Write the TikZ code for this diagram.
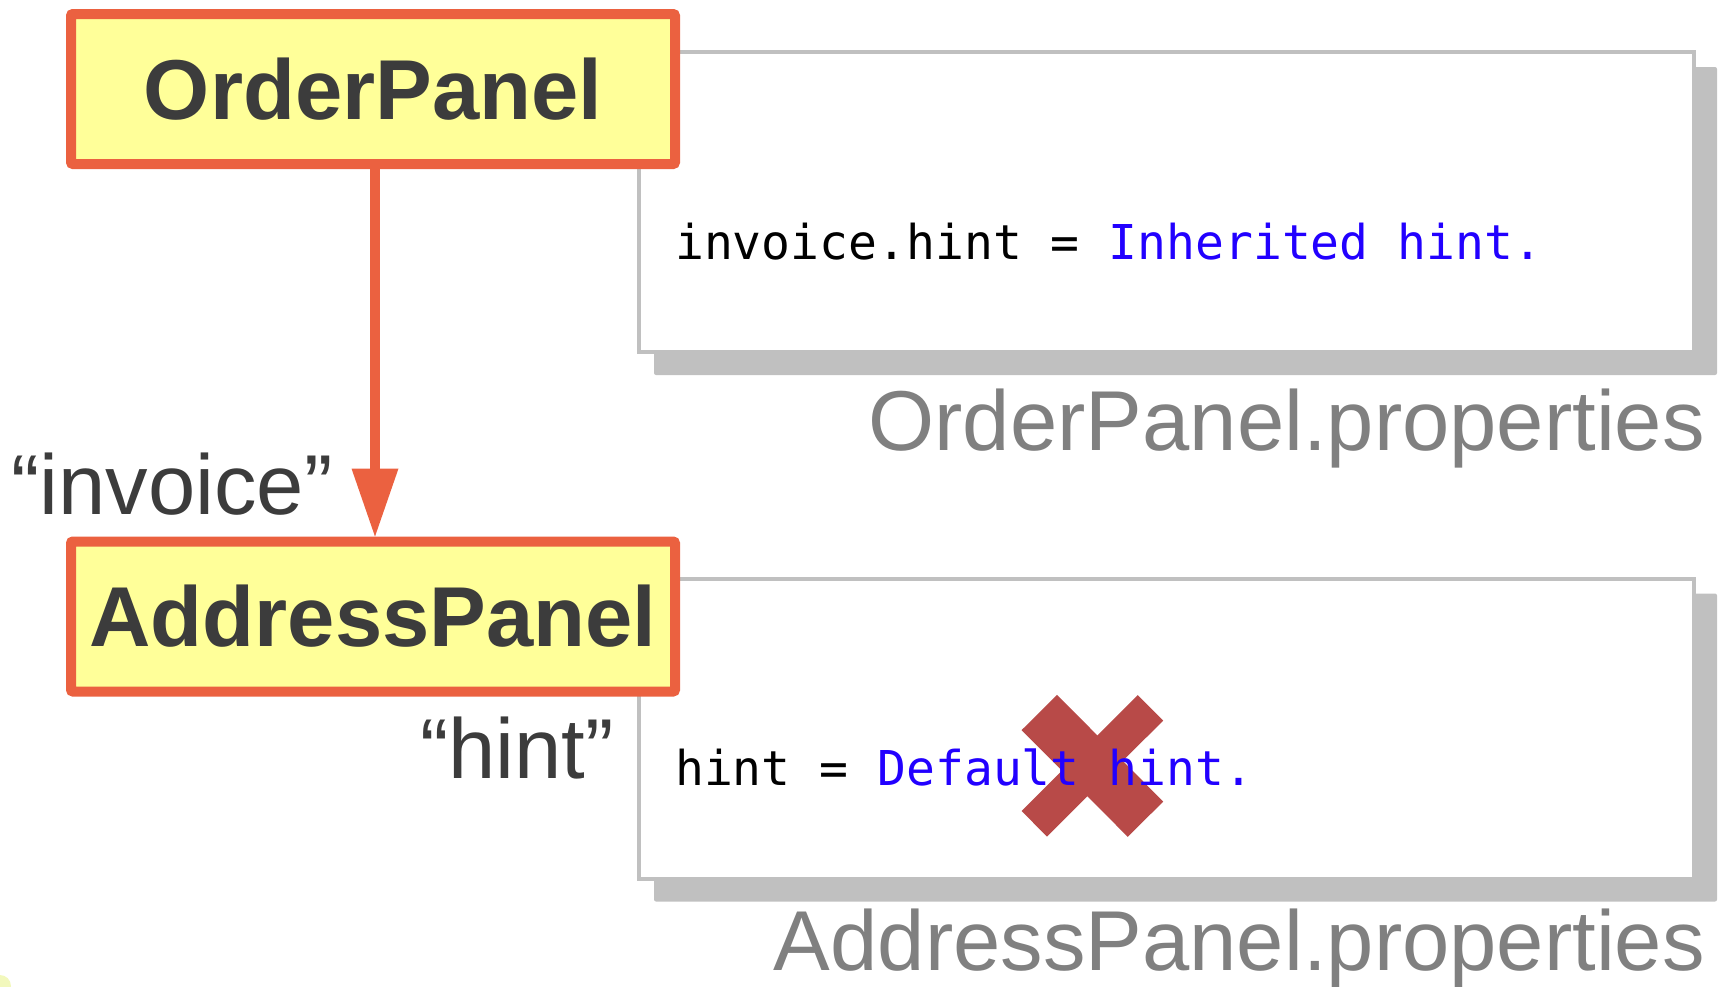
\documentclass[tikz,border=0pt]{standalone}
\usepackage{fontspec}
\setmainfont{Liberation Sans}
\newfontfamily\codefont{DejaVu Sans Mono}
\usetikzlibrary{arrows.meta,backgrounds}

\definecolor{paneledge}{HTML}{EB6140}
\definecolor{panelfill}{HTML}{FFFF99}
\definecolor{inkdark}{HTML}{3C3C3C}
\definecolor{filegray}{HTML}{C0C0C0}
\definecolor{labelgray}{HTML}{808080}
\definecolor{valueblue}{HTML}{2200FF}
\definecolor{crossred}{HTML}{B84A48}
\definecolor{cornerglow}{HTML}{E6F27A}

\begin{document}
\begin{tikzpicture}[x=1pt,y=-1pt,
  panel/.style={draw=paneledge, fill=panelfill, line width=10pt, rounded corners=2pt,
    minimum width=604pt, minimum height=150pt, inner sep=0pt, text=inkdark,
    font=\bfseries\fontsize{85}{90}\selectfont},
  propfile/.style={draw=filegray, fill=white, line width=4pt,
    minimum width=1055pt, minimum height=300pt, inner sep=0pt},
  fileshadow/.style={fill=filegray, rounded corners=2pt},
  caption/.style={inner sep=0pt, text=labelgray, font=\fontsize{85}{90}\selectfont},
  keyname/.style={inner sep=0pt, text=inkdark, font=\fontsize{85}{90}\selectfont},
  code/.style={inner sep=0pt, text=black, font=\codefont\fontsize{48}{56}\selectfont},
  link/.style={draw=paneledge, line width=10pt,
    -{Triangle[length=68pt,width=47pt,line width=0pt]}},
  cross/.style={draw=crossred, line cap=butt},
]
\useasboundingbox (0,0) rectangle (1725,986);

% properties files, with their shadows on the background layer
\node[propfile] (pf1) at (1166.5,202) {};
\node[propfile] (pf2) at (1166.5,728.5) {};
\begin{scope}[on background layer]
  \fill[fileshadow] ([shift={(17,17)}]pf1.north west) rectangle ([shift={(21,21)}]pf1.south east);
  \fill[fileshadow] ([shift={(17,17)}]pf2.north west) rectangle ([shift={(21,21)}]pf2.south east);
  \fill[cornerglow, opacity=0.5] (0,986) circle (11pt);
\end{scope}

% panel classes
\node[panel] (op) at (373,89) {OrderPanel};
\node[panel] (ap) at (373,616.5) {AddressPanel};
\draw[link] ([xshift=2pt]op.south) -- ([xshift=2pt]ap.north);

% key names
\node[keyname, anchor=base west] (kinv) at (11,514) {“invoice”};
\node[keyname, anchor=base west] (khint) at (420,778) {“hint”};

% overridden default is struck out
\coordinate (xa1) at (1039.3,712.5);
\coordinate (xa2) at (1145.5,819.2);
\coordinate (xb1) at (1150.5,707.8);
\coordinate (xb2) at (1034.3,823.8);
\draw[cross, line width=50pt] (xa1) -- (xa2);
\draw[cross, line width=36pt] (xb1) -- (xb2);

% file contents
\node[code, anchor=base west] (c1) at (675,259) {invoice.hint = \textcolor{valueblue}{Inherited hint.}};
\node[code, anchor=base west] (c2) at (675,785.5) {hint = \textcolor{valueblue}{Default hint.}};

% file names
\node[caption, anchor=base east] (cap1) at (1705,450) {OrderPanel.properties};
\node[caption, anchor=base east] (cap2) at (1705,970) {AddressPanel.properties};
\end{tikzpicture}
\end{document}
